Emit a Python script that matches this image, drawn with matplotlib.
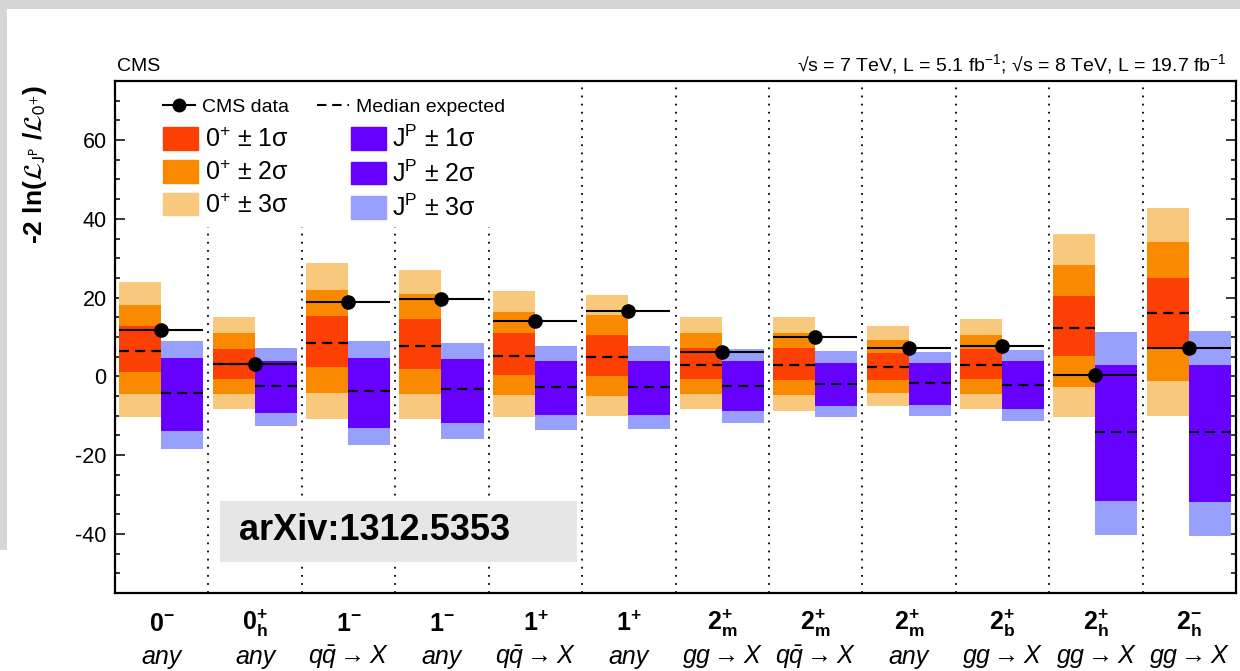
import matplotlib.pyplot as plt
from matplotlib.patches import Rectangle, Patch
from matplotlib.lines import Line2D
import numpy as np

plt.rcParams['font.family'] = ['Liberation Sans', 'DejaVu Sans']
plt.rcParams['mathtext.fontset'] = 'custom'
plt.rcParams['mathtext.rm'] = 'Liberation Sans'
plt.rcParams['mathtext.it'] = 'Liberation Sans:italic'
plt.rcParams['mathtext.bf'] = 'Liberation Sans:bold'
plt.rcParams['axes.unicode_minus'] = False

# hypotheses and production modes
spin_labels = [r'$\mathbf{0^{-}}$', r'$\mathbf{0^{+}_{h}}$', r'$\mathbf{1^{-}}$', r'$\mathbf{1^{-}}$',
               r'$\mathbf{1^{+}}$', r'$\mathbf{1^{+}}$', r'$\mathbf{2^{+}_{m}}$', r'$\mathbf{2^{+}_{m}}$',
               r'$\mathbf{2^{+}_{m}}$', r'$\mathbf{2^{+}_{b}}$', r'$\mathbf{2^{+}_{h}}$', r'$\mathbf{2^{-}_{h}}$']
prod_labels = ['any', 'any', r'$q\bar{q}\rightarrow X$', 'any', r'$q\bar{q}\rightarrow X$', 'any',
               r'$gg\rightarrow X$', r'$q\bar{q}\rightarrow X$', 'any', r'$gg\rightarrow X$',
               r'$gg\rightarrow X$', r'$gg\rightarrow X$']

# observed -2 ln(L_JP / L_0+)
obs = [11.7, 3.1, 19.0, 19.7, 14.0, 16.6, 6.2, 10.1, 7.2, 7.8, 0.4, 7.3]

# expected under 0+ (SM)
sm_median = [6.5, 3.2, 8.4, 7.6, 5.2, 4.9, 3.0, 3.0, 2.3, 2.9, 12.4, 16.0]
sm_1s_lo = [1.1, -0.6, 2.3, 1.8, 0.4, 0.2, -0.6, -0.8, -0.9, -0.6, 5.2, 7.0]
sm_1s_hi = [12.7, 7.0, 15.4, 14.5, 11.0, 10.6, 7.2, 7.3, 5.9, 7.0, 20.5, 25.1]
sm_2s_lo = [-4.5, -4.5, -4.3, -4.4, -4.8, -5.1, -4.4, -4.7, -4.2, -4.4, -2.6, -1.1]
sm_2s_hi = [18.2, 11.0, 22.0, 20.9, 16.4, 15.5, 10.9, 11.0, 9.3, 10.6, 28.3, 34.1]
sm_3s_lo = [-10.2, -8.3, -10.8, -10.8, -10.2, -10.0, -8.3, -8.7, -7.6, -8.3, -10.3, -10.0]
sm_3s_hi = [23.9, 15.0, 28.7, 27.1, 21.7, 20.7, 15.0, 15.0, 12.7, 14.5, 36.1, 42.7]

# expected under the alternative J^P
alt_median = [-4.2, -2.4, -3.7, -3.2, -2.6, -2.6, -2.4, -1.9, -1.8, -2.1, -14.0, -14.1]
alt_1s_lo = [-9.0, -5.8, -8.3, -7.5, -6.2, -6.2, -5.6, -4.7, -4.5, -5.2, -22.9, -23.0]
alt_1s_hi = [0.2, 0.9, 0.5, 0.8, 0.7, 0.7, 0.9, 0.8, 0.9, 1.0, -5.5, -5.3]
alt_2s_lo = [-13.9, -9.2, -13.0, -11.9, -9.8, -9.8, -8.9, -7.5, -7.2, -8.3, -31.6, -31.9]
alt_2s_hi = [4.6, 4.0, 4.6, 4.4, 4.0, 4.0, 4.0, 3.5, 3.5, 3.8, 2.9, 2.8]
alt_3s_lo = [-18.4, -12.5, -17.4, -15.9, -13.5, -13.3, -11.9, -10.4, -10.0, -11.3, -40.2, -40.6]
alt_3s_hi = [9.1, 7.3, 9.0, 8.4, 7.8, 7.6, 7.0, 6.5, 6.3, 6.8, 11.3, 11.5]

sm_colors = ['#fc3f02', '#f98a00', '#f8c97c']
alt_colors = ['#6600ff', '#6600ff', '#98a0fd']

n = len(obs)
idx = np.arange(n)
w = 0.45
x_sm = idx + 0.045
x_alt = idx + 0.495

fig = plt.figure(figsize=(12.4, 6.71), dpi=100)

# slide background strips
fig.patches.append(Rectangle((0, 1 - 9 / 671), 1, 9 / 671, transform=fig.transFigure,
                             facecolor='#d6d6d6', edgecolor='none', zorder=0))
fig.patches.append(Rectangle((0, 1 - 550 / 671), 7 / 1240, 550 / 671, transform=fig.transFigure,
                             facecolor='#d6d6d6', edgecolor='none', zorder=0))

ax = fig.add_axes([115 / 1240, 1 - 593 / 671, 1121 / 1240, 512 / 671])

# bands, widest first
sm_bands = [(sm_3s_lo, sm_3s_hi), (sm_2s_lo, sm_2s_hi), (sm_1s_lo, sm_1s_hi)]
alt_bands = [(alt_3s_lo, alt_3s_hi), (alt_2s_lo, alt_2s_hi), (alt_1s_lo, alt_1s_hi)]
for (lo, hi), c in zip(sm_bands, sm_colors[::-1]):
    lo, hi = np.array(lo), np.array(hi)
    ax.bar(x_sm, hi - lo, bottom=lo, width=w, align='edge', color=c, linewidth=0, zorder=2)
for (lo, hi), c in zip(alt_bands, alt_colors[::-1]):
    lo, hi = np.array(lo), np.array(hi)
    ax.bar(x_alt, hi - lo, bottom=lo, width=w, align='edge', color=c, linewidth=0, zorder=2)

dash = (0, (4.5, 2.8))
ax.hlines(sm_median, x_sm, x_sm + w, colors='black', linestyles=[dash], linewidth=1.6, zorder=3)
ax.hlines(alt_median, x_alt, x_alt + w, colors='black', linestyles=[dash], linewidth=1.6, zorder=3)

# observed values
ax.hlines(obs, x_sm, x_alt + w, colors='black', linewidth=1.5, zorder=4)
ax.plot(x_alt, obs, 'o', color='black', markersize=9.5, zorder=5)

# separators between hypotheses
ax.vlines(idx[1:], 0, 1, transform=ax.get_xaxis_transform(), colors='black',
          linestyles=[(0, (1, 3.5))], linewidth=1.3, zorder=1)

ax.set_xlim(0, n)
ax.set_ylim(-55, 75)
ax.set_xticks([])
ax.set_yticks(np.arange(-40, 61, 20))
ax.set_yticks(np.arange(-55, 76, 5), minor=True)
ax.tick_params(axis='y', which='both', direction='in', left=True, right=True,
               labelsize=15.5, width=1.1)
ax.tick_params(axis='y', which='major', length=7.5, pad=6)
ax.tick_params(axis='y', which='minor', length=3.8)
for sp in ax.spines.values():
    sp.set_linewidth(1.6)

# white area behind legend, over the separators only
ax.add_patch(Rectangle((0, 0.715), 0.345, 0.285, transform=ax.transAxes,
                       facecolor='white', edgecolor='none', zorder=1.5))

h_top = [Line2D([], [], color='black', lw=1.5, marker='o', markersize=9),
         Line2D([], [], color='black', lw=1.5, linestyle=dash)]
leg1 = ax.legend(h_top, ['CMS data', 'Median expected'], ncol=2, loc='upper left',
                 bbox_to_anchor=(0.034, 0.985), frameon=False, fontsize=14, borderpad=0,
                 handlelength=1.65, handletextpad=0.35, columnspacing=1.45)
leg1.set_zorder(7)
ax.add_artist(leg1)

h_box = [Patch(color=c) for c in sm_colors] + [Patch(color=c) for c in alt_colors]
l_box = ['0$^{+}$ ± 1σ', '0$^{+}$ ± 2σ', '0$^{+}$ ± 3σ',
         'J$^{\\mathrm{P}}$ ± 1σ', 'J$^{\\mathrm{P}}$ ± 2σ', 'J$^{\\mathrm{P}}$ ± 3σ']
leg2 = ax.legend(h_box, l_box, ncol=2, loc='upper left', bbox_to_anchor=(0.032, 0.937),
                 frameon=False, fontsize=18, borderpad=0, handlelength=1.4, handleheight=1.0,
                 handletextpad=0.25, columnspacing=2.5, labelspacing=0.32)
leg2.set_zorder(7)

# category labels under the axis
for i in idx:
    ax.text(i + 0.5, -0.06, spin_labels[i], transform=ax.get_xaxis_transform(),
            ha='center', va='center', fontsize=18)
    ax.text(i + 0.5, -0.125, prod_labels[i], transform=ax.get_xaxis_transform(),
            ha='center', va='center', fontsize=18, style='italic')

fig.text(35 / 1240, 1 - 85 / 671,
         r'-2 ln($\mathcal{L}_{\mathrm{J^{P}}}$ /$\mathcal{L}_{\mathrm{0^{+}}}$)',
         rotation=90, ha='center', va='top', fontsize=19, fontweight='bold',
         math_fontfamily='stixsans')
fig.text(117 / 1240, 1 - 71 / 671, 'CMS', fontsize=14, va='baseline')
fig.text(1227 / 1240, 1 - 71 / 671,
         '√s = 7 TeV, L = 5.1 fb$^{-1}$; √s = 8 TeV, L = 19.7 fb$^{-1}$',
         fontsize=14, ha='right', va='baseline')

# arXiv tag
fig.patches.append(Rectangle((220 / 1240, 1 - 562 / 671), 357 / 1240, 61 / 671,
                             transform=fig.transFigure, facecolor='#e6e6e6',
                             edgecolor='none', zorder=10))
fig.text(239 / 1240, 1 - 531 / 671, 'arXiv:1312.5353', fontsize=26, fontweight='bold',
         va='center', ha='left', zorder=11)

fig.savefig('out.png', dpi=100)
